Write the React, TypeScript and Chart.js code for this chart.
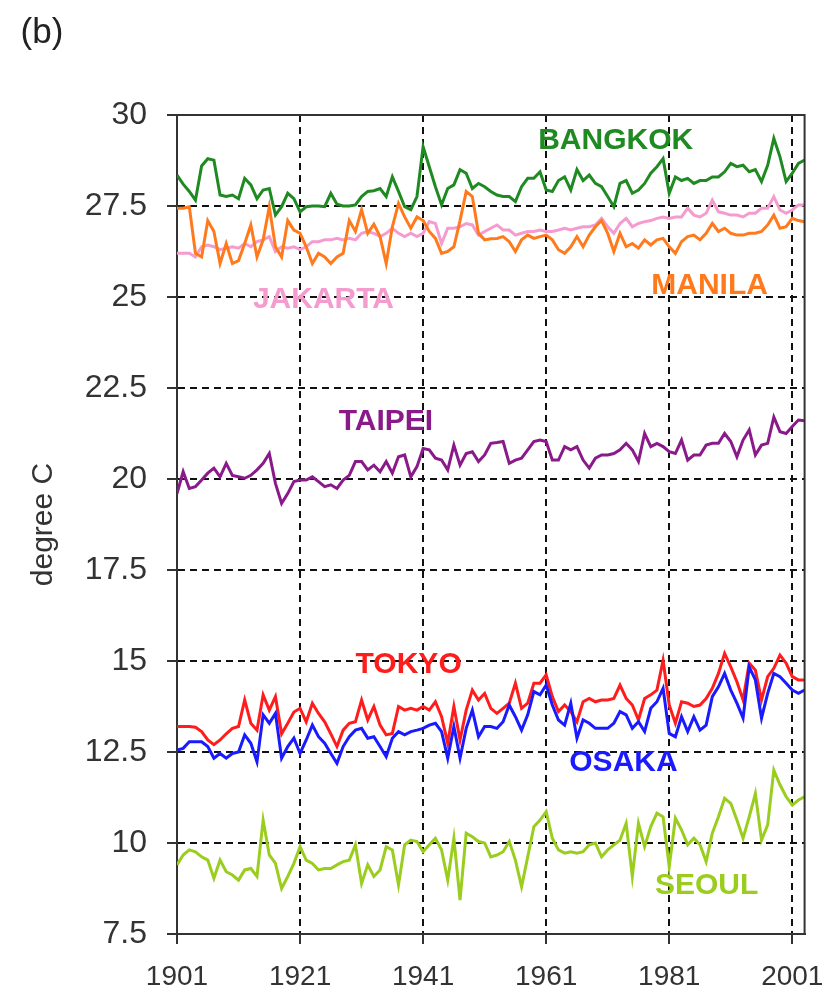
import React, { useEffect, useRef } from "react";
import { Chart, registerables } from "chart.js";

Chart.register(...registerables);

const FONT = "'Liberation Sans', Arial, Helvetica, sans-serif";

const START_YEAR = 1901;
const X_MIN = 1901;
const X_MAX = 2003;
const X_TICKS = [1901, 1921, 1941, 1961, 1981, 2001];
const Y_MIN = 7.5;
const Y_MAX = 30;
const Y_STEP = 2.5;

const bangkok = [
  28.35, 28.1, 27.9, 27.66, 28.6, 28.8, 28.76, 27.8, 27.76, 27.8,
  27.7, 28.26, 28.08, 27.7, 27.94, 27.98, 27.25, 27.48, 27.85, 27.7,
  27.34, 27.48, 27.5, 27.5, 27.48, 27.85, 27.55, 27.5, 27.5, 27.53,
  27.76, 27.9, 27.92, 27.98, 27.76, 28.3, 27.9, 27.48, 27.4, 27.76,
  29.13, 28.58, 28.03, 27.53, 27.98, 28.08, 28.5, 28.4, 27.98, 28.12,
  28.03, 27.9, 27.8, 27.76, 27.76, 27.62, 28.03, 28.26, 28.26, 28.44,
  27.94, 27.9, 28.2, 28.3, 27.94, 28.5, 28.2, 28.35, 28.12, 28.03,
  27.76, 27.48, 28.12, 28.2, 27.85, 27.94, 28.12, 28.4, 28.58, 28.8,
  27.85, 28.3, 28.2, 28.26, 28.12, 28.2, 28.2, 28.3, 28.3, 28.44,
  28.67, 28.58, 28.62, 28.44, 28.5, 28.17, 28.62, 29.36, 28.85, 28.17,
  28.4, 28.67, 28.76,
];

const manila = [
  27.44, 27.44, 27.48, 26.2, 26.1, 27.1, 26.8, 25.92, 26.47, 25.92,
  26.0, 26.47, 26.98, 26.1, 26.57, 27.48, 26.38, 26.1, 27.1, 26.84,
  26.75, 26.38, 25.92, 26.2, 26.1, 25.92, 26.1, 26.2, 27.1, 26.8,
  27.4, 26.75, 27.0, 26.66, 25.92, 26.93, 27.57, 27.2, 26.89, 27.2,
  27.1, 26.8, 26.61, 26.2, 26.25, 26.38, 27.1, 27.9, 27.76, 26.75,
  26.57, 26.6, 26.61, 26.66, 26.52, 26.25, 26.57, 26.7, 26.61, 26.66,
  26.7, 26.57, 26.3, 26.2, 26.38, 26.66, 26.38, 26.7, 26.93, 27.1,
  26.75, 26.25, 26.75, 26.38, 26.47, 26.34, 26.57, 26.43, 26.57, 26.61,
  26.38, 26.2, 26.52, 26.66, 26.7, 26.57, 26.75, 27.02, 26.8, 26.89,
  26.75, 26.7, 26.7, 26.75, 26.75, 26.8, 26.98, 27.25, 26.89, 26.93,
  27.16, 27.1, 27.07,
];

const jakarta = [
  26.2, 26.2, 26.2, 26.1, 26.38, 26.43, 26.38, 26.3, 26.34, 26.38,
  26.34, 26.47, 26.38, 26.52, 26.57, 26.66, 26.25, 26.38, 26.34, 26.38,
  26.3, 26.38, 26.52, 26.52, 26.57, 26.57, 26.61, 26.57, 26.61, 26.57,
  26.75, 26.8, 26.75, 26.66, 26.75, 26.89, 26.75, 26.66, 26.75, 26.66,
  26.75, 27.07, 27.02, 26.47, 26.89, 26.89, 26.93, 27.02, 26.98, 26.7,
  26.8, 26.89, 26.98, 26.84, 26.84, 26.7, 26.75, 26.8, 26.8, 26.84,
  26.8, 26.8, 26.84, 26.89, 26.84, 26.89, 26.93, 26.93, 26.98, 27.16,
  26.93, 26.75, 27.02, 27.16, 26.93, 27.02, 27.07, 27.1, 27.16, 27.2,
  27.16, 27.2, 27.2, 27.44, 27.25, 27.2, 27.3, 27.66, 27.34, 27.3,
  27.25, 27.25, 27.2, 27.3, 27.3, 27.44, 27.44, 27.76, 27.39, 27.3,
  27.39, 27.53, 27.53,
];

const taipei = [
  19.6, 20.2, 19.74, 19.79, 19.97, 20.16, 20.3, 20.06, 20.43, 20.1,
  20.06, 20.02, 20.1, 20.25, 20.43, 20.7, 19.88, 19.33, 19.6, 19.93,
  19.97, 19.97, 20.06, 19.93, 19.79, 19.84, 19.74, 19.97, 20.1, 20.48,
  20.48, 20.25, 20.38, 20.2, 20.48, 20.16, 20.61, 20.66, 20.06, 20.34,
  20.84, 20.8, 20.57, 20.52, 20.25, 20.93, 20.38, 20.7, 20.75, 20.48,
  20.66, 20.98, 21.0, 21.03, 20.43, 20.52, 20.57, 20.8, 21.03, 21.07,
  21.03, 20.52, 20.52, 20.89, 20.8, 20.89, 20.52, 20.3, 20.57, 20.66,
  20.66, 20.7, 20.8, 20.98, 20.8, 20.48, 21.25, 20.89, 20.98, 20.89,
  20.75, 20.7, 21.07, 20.52, 20.66, 20.66, 20.93, 20.98, 20.98, 21.25,
  21.03, 20.61, 21.07, 21.35, 20.66, 20.93, 20.98, 21.7, 21.3, 21.25,
  21.44, 21.62, 21.6,
];

const tokyo = [
  13.2, 13.2, 13.2, 13.18, 13.06, 12.83, 12.7, 12.83, 13.0, 13.15,
  13.2, 13.93, 13.29, 13.1, 14.07, 13.65, 14.02, 13.0, 13.29, 13.6,
  13.7, 13.33, 13.84, 13.56, 13.33, 13.0, 12.65, 13.1, 13.29, 13.33,
  13.93, 13.38, 13.75, 13.24, 12.97, 13.01, 13.75, 13.65, 13.7, 13.65,
  13.75, 13.65, 13.88, 13.47, 12.74, 13.75, 12.83, 13.65, 14.2, 13.93,
  14.11, 13.7, 13.56, 13.7, 13.84, 14.39, 13.7, 13.84, 14.39, 14.39,
  14.62, 14.02, 13.61, 13.79, 13.61, 13.33, 13.88, 13.97, 13.88, 13.93,
  13.93, 13.97, 14.34, 13.97, 13.79, 13.38, 13.97, 14.07, 14.2, 15.02,
  13.79, 13.29, 13.88, 13.84, 13.75, 13.79, 13.97, 14.25, 14.66, 15.21,
  14.84, 14.43, 13.93, 14.94, 14.75, 13.93, 14.57, 14.8, 15.16, 14.94,
  14.57, 14.48, 14.48,
];

const osaka = [
  12.55, 12.6, 12.78, 12.78, 12.78, 12.65, 12.33, 12.46, 12.33, 12.46,
  12.5, 12.97, 12.74, 12.23, 13.52, 13.29, 13.56, 12.33, 12.65, 12.88,
  12.46, 12.83, 13.24, 12.92, 12.74, 12.46, 12.19, 12.65, 12.92, 13.1,
  13.15, 12.88, 12.92, 12.65, 12.37, 12.88, 13.06, 12.97, 13.06, 13.1,
  13.15, 13.24, 13.29, 13.06, 12.33, 13.2, 12.33, 13.15, 13.65, 12.92,
  13.2, 13.2, 13.15, 13.33, 13.79, 13.47, 13.1, 13.52, 14.16, 14.07,
  14.34, 13.79, 13.38, 13.24, 13.84, 12.88, 13.38, 13.29, 13.15, 13.15,
  13.15, 13.29, 13.61, 13.52, 13.15, 13.33, 13.06, 13.7, 13.88, 14.25,
  13.01, 12.92, 13.47, 13.06, 13.47, 13.1, 13.24, 14.02, 14.29, 14.66,
  14.2, 13.84, 13.43, 14.84, 14.48, 13.43, 14.11, 14.66, 14.57, 14.39,
  14.2, 14.11, 14.2,
];

const seoul = [
  9.4, 9.67, 9.81, 9.76, 9.62, 9.53, 9.03, 9.53, 9.21, 9.12,
  8.98, 9.26, 9.3, 9.08, 10.63, 9.67, 9.44, 8.75, 9.08, 9.44,
  9.9, 9.53, 9.44, 9.26, 9.3, 9.3, 9.4, 9.49, 9.53, 9.95,
  8.89, 9.4, 9.08, 9.26, 9.9, 9.81, 8.85, 9.95, 10.08, 10.04,
  9.76, 9.95, 10.13, 9.81, 8.98, 10.13, 8.43, 10.27, 10.17, 10.04,
  10.0, 9.62, 9.67, 9.76, 10.04, 9.53, 8.8, 9.62, 10.45, 10.63,
  10.86, 10.13, 9.81, 9.72, 9.76, 9.72, 9.76, 9.95, 10.0, 9.62,
  9.81, 9.95, 10.08, 10.54, 9.08, 10.54, 9.9, 10.45, 10.82, 10.72,
  9.35, 10.68, 10.36, 9.95, 10.13, 9.95, 9.49, 10.27, 10.72, 11.23,
  11.09, 10.63, 10.13, 10.72, 11.36, 10.08, 10.5, 12.0, 11.6, 11.27,
  11.04, 11.18, 11.27,
];

const cityNames = ["BANGKOK", "MANILA", "JAKARTA", "TAIPEI", "OSAKA", "TOKYO", "SEOUL"];
const cityColors = ["#1f8a22", "#ff7a1c", "#f59ccf", "#8a1a8a", "#1a1aff", "#ff1c1c", "#9acd1e"];
const citySeries = [bangkok, manila, jakarta, taipei, osaka, tokyo, seoul];
// label anchor positions in data units (year, degree C)
const labelYears = [1972.3, 1987.56, 1924.8, 1934.95, 1973.56, 1938.65, 1987.07];
const labelValues = [29.3, 25.3, 24.92, 21.57, 12.2, 14.89, 8.82];

const toPoints = (arr: number[]) => arr.map((v, i) => ({ x: START_YEAR + i, y: v }));

const decorPlugin = {
  id: "decor",
  afterDatasetsDraw(chart: any) {
    const { ctx, chartArea, scales } = chart;
    ctx.save();
    // frame top and right
    ctx.strokeStyle = "#333";
    ctx.lineWidth = 2;
    ctx.setLineDash([]);
    ctx.beginPath();
    ctx.moveTo(chartArea.left, chartArea.top);
    ctx.lineTo(chartArea.right, chartArea.top);
    ctx.lineTo(chartArea.right, chartArea.bottom);
    ctx.stroke();
    // city labels
    ctx.font = `bold 30px ${FONT}`;
    ctx.textAlign = "center";
    ctx.textBaseline = "middle";
    cityNames.forEach((name, i) => {
      const x = scales.x.getPixelForValue(labelYears[i]);
      const y = scales.y.getPixelForValue(labelValues[i]);
      ctx.fillStyle = cityColors[i];
      ctx.fillText(name, x, y);
    });
    // panel letter
    ctx.font = `35px ${FONT}`;
    ctx.fillStyle = "#222";
    ctx.fillText("(b)", 42, 33);
    ctx.restore();
  },
};

export default function App() {
  const ref = useRef<HTMLCanvasElement | null>(null);

  useEffect(() => {
    document.body.style.margin = "0";
    const canvas = ref.current;
    if (!canvas) return;
    const chart = new Chart(canvas, {
      type: "line",
      data: {
        datasets: citySeries.map((s, i) => ({
          label: cityNames[i],
          data: toPoints(s),
          borderColor: cityColors[i],
          backgroundColor: cityColors[i],
          borderWidth: 3,
          pointRadius: 0,
          tension: 0,
          fill: false,
        })),
      },
      options: {
        responsive: false,
        animation: false,
        events: [],
        layout: { padding: { top: 115, right: 29, left: 0, bottom: 0 } },
        plugins: {
          legend: { display: false },
          tooltip: { enabled: false },
          title: { display: false },
        },
        scales: {
          x: {
            type: "linear",
            min: X_MIN,
            max: X_MAX,
            afterBuildTicks: (s: any) => {
              s.ticks = X_TICKS.map((v) => ({ value: v }));
            },
            afterFit: (s: any) => {
              s.height = 59;
            },
            ticks: {
              autoSkip: false,
              maxRotation: 0,
              padding: 16,
              color: "#333",
              font: { family: FONT, size: 28 },
              callback: (v: any) => String(v),
            },
            grid: {
              color: (c: any) => (c.tick && c.tick.value === X_MIN ? "rgba(0,0,0,0)" : "#111"),
              lineWidth: 2,
              tickColor: "#333",
              tickLength: 10,
              tickWidth: 2,
              tickBorderDash: [],
            },
            border: { display: true, color: "#333", width: 2, dash: [7, 5] },
          },
          y: {
            min: Y_MIN,
            max: Y_MAX,
            afterFit: (s: any) => {
              s.width = 177;
            },
            ticks: {
              stepSize: Y_STEP,
              padding: 20,
              crossAlign: "near",
              color: "#333",
              font: { family: FONT, size: 32 },
            },
            grid: {
              color: (c: any) =>
                c.tick && (c.tick.value === Y_MIN || c.tick.value === Y_MAX) ? "rgba(0,0,0,0)" : "#111",
              lineWidth: 2,
              tickColor: "#333",
              tickLength: 10,
              tickWidth: 2,
              tickBorderDash: [],
            },
            border: { display: true, color: "#333", width: 2, dash: [7, 5] },
            title: {
              display: true,
              text: "degree C",
              color: "#333",
              font: { family: FONT, size: 30 },
              padding: { top: 26, bottom: 0 },
            },
          },
        },
      },
      plugins: [decorPlugin],
    });
    return () => chart.destroy();
  }, []);

  return (
    <div style={{ position: "fixed", left: 0, top: 0, width: 840, height: 993, background: "#fff" }}>
      <canvas ref={ref} width={840} height={993} style={{ display: "block" }} />
    </div>
  );
}
